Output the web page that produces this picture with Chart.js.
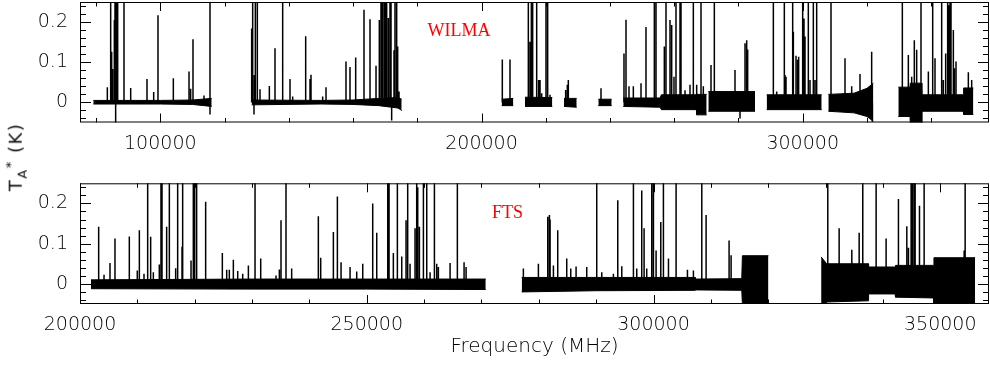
<!DOCTYPE html>
<html lang="en">
<head>
<meta charset="UTF-8">
<title>WILMA / FTS spectra</title>
<script src="https://cdn.jsdelivr.net/npm/chart.js"></script>
<style>
  body { margin: 0; background: #fff; }
  #wrap { position: relative; width: 990px; height: 365px; overflow: hidden; }
  #wrap canvas { position: absolute; left: 0; }
  #top { top: 0; }
  #bottom { top: 160px; }
  #ylabel {
    position: absolute; left: 16px; top: 157px;
    transform: translate(-50%, -50%) rotate(-90deg);
    font: 400 18px "DejaVu Sans", sans-serif; color: #111; white-space: nowrap; letter-spacing: 1.5px;
  }
  #ylabel sub, #ylabel sup { font-size: 13px; }
</style>
</head>
<body>
<div id="wrap">
  <canvas id="top" width="990" height="160"></canvas>
  <canvas id="bottom" width="990" height="205"></canvas>
  <div id="ylabel">T<sub>A</sub><sup>*</sup> (K)</div>
</div>

<script>
// tick labels
const wilmaTicks = [100000, 200000, 300000];
const ftsTicks = [200000, 250000, 300000, 350000];
const yTicks = [0, 0.1, 0.2];

// WILMA baseline noise envelope (MHz, upper K, lower K); null separates backend chunks
const wilmaBandFreq = [79150, 100000, 110000, 116000, null,
  128450, 150000, 160000, 168000, 174000, 175150, null,
  206290, 209900, null,
  213540, 222040, null,
  225680, 229640, null,
  236370, 240530, null,
  244150, 255600, 256000, 266900, 267000, 270100, null,
  270620, 285150, null,
  288780, 305910, null,
  307980, 316000, 320000, 321990, null,
  329770, 333400, 333500, 337000, 337100, 350000, 350100, 353130];
const wilmaBandHi = [0.005, 0.005, 0.006, 0.01, null,
  0.006, 0.005, 0.006, 0.01, 0.012, 0.008, null,
  0.008, 0.01, null,
  0.013, 0.012, null,
  0.01, 0.01, null,
  0.008, 0.008, null,
  0.011, 0.011, 0.019, 0.019, 0.02, 0.02, null,
  0.027, 0.027, null,
  0.019, 0.019, null,
  0.02, 0.023, 0.035, 0.048, null,
  0.038, 0.038, 0.048, 0.048, 0.019, 0.019, 0.036, 0.036];
const wilmaBandLo = [-0.004, -0.004, -0.005, -0.01, null,
  -0.006, -0.004, -0.005, -0.008, -0.014, -0.02, null,
  -0.008, -0.008, null,
  -0.01, -0.01, null,
  -0.01, -0.012, null,
  -0.008, -0.008, null,
  -0.01, -0.012, -0.018, -0.018, -0.031, -0.031, null,
  -0.022, -0.022, null,
  -0.018, -0.018, null,
  -0.022, -0.026, -0.035, -0.047, null,
  -0.035, -0.035, -0.051, -0.051, -0.022, -0.022, -0.03, -0.03];

// WILMA lines: rest frequency (MHz) and peak T_A* (K); 0.3 = off scale
const wilmaLineFreq = [83510, 84550, 84860, 85170, 85690, 85900, 86100, 86100, 86420, 86730,
  88700, 90780, 95860, 97940, 99280, 104060, 108940, 109450, 110180, 113600, 115470, 115470,
  128445, 128760, 129170, 129270, 129590, 130210, 131040, 133950, 135710, 138100, 140380,
  141210, 145260, 146610, 146920, 150550, 151590, 157810, 159060, 160830, 163420, 165290,
  167160, 168190, 168710, 169130, 169650, 170060, 170480, 171000, 171510, 171830, 172030,
  172760, 173070, 173590, 173900, 174320,
  206480, 208870, 214580, 215100, 215520, 215930, 217180, 217800, 218220, 218740, 220080,
  220600, 221330, 226200, 226720, 227030, 237200,
  244360, 244990, 245920, 247270, 249660, 251210, 253810, 254330, 256920, 257440, 258690,
  259210, 259930, 260550, 261800, 262110, 263360, 264910, 265950, 266990, 268340, 269060,
  271450, 272490, 278920, 280480, 282040, 282560, 282870,
  290860, 291900, 294280, 294490, 294800, 296880, 297090, 297920, 298430, 298740, 299990,
  300400, 300720, 301750, 302280, 303310, 303830, 304350,
  308810, 313170, 315250, 317840, 321470, 321680,
  331020, 332890, 333930, 334750, 335480, 336830, 337040, 339120, 340470, 341190, 343270,
  343790, 344510, 345130, 345550, 345860, 346170, 346900, 347210, 347730, 351570, 352610];
const wilmaLinePeak = [0.038, 0.3, 0.126, 0.083, 0.205, 0.3, 0.3, -0.08, 0.3, 0.3,
  0.3, 0.036, 0.058, 0.026, 0.217, 0.06, 0.077, 0.034, 0.157, 0.017, 0.3, -0.03,
  0.184, 0.3, -0.03, 0.068, 0.3, 0.3, 0.033, 0.041, 0.135, 0.3, 0.058,
  0.015, 0.165, 0.058, 0.069, 0.015, 0.038, 0.102, 0.088, 0.112, 0.231, 0.207,
  0.091, 0.205, 0.3, 0.3, 0.3, 0.3, 0.3, 0.21, 0.3, 0.3, -0.045,
  0.13, 0.3, 0.3, 0.139, 0.027,
  0.107, 0.107, 0.3, 0.151, 0.3, 0.3, 0.3, 0.056, 0.056, 0.023, 0.3,
  0.3, 0.019, 0.031, 0.044, 0.056, 0.035,
  0.122, 0.206, 0.04, 0.04, 0.048, 0.188, 0.3, 0.3, 0.139, 0.3, 0.205,
  0.193, 0.064, 0.3, 0.3, 0.3, 0.03, 0.044, 0.3, 0.044, 0.3, 0.04,
  0.093, 0.3, 0.081, -0.04, 0.147, 0.155, 0.132,
  0.3, 0.027, 0.3, 0.068, 0.064, 0.3, 0.176, 0.116, 0.106, 0.114, 0.3,
  0.209, 0.164, 0.3, 0.056, 0.3, 0.056, 0.3,
  0.3, 0.11, 0.04, 0.071, 0.126, -0.048,
  0.3, 0.118, 0.064, 0.155, 0.131, 0.3, -0.052, 0.077, 0.3, 0.11, 0.3,
  0.056, 0.122, 0.3, 0.242, 0.3, 0.3, 0.18, 0.085, 0.102, 0.075, 0.056];

// FTS baseline noise envelope
const ftsBandFreq = [201920, 230000, 250000, 270750, null,
  277020, 290000, 307260, 307300, 315390, 315500, 320040, null,
  329230, 330200, 337480, 337500, 342130, 342200, 348820, 348900, 356080];
const ftsBandHi = [0.01, 0.012, 0.012, 0.012, null,
  0.016, 0.016, 0.016, 0.012, 0.013, 0.07, 0.07, null,
  0.067, 0.05, 0.05, 0.042, 0.042, 0.046, 0.046, 0.065, 0.065];
const ftsBandLo = [-0.012, -0.013, -0.013, -0.014, null,
  -0.02, -0.017, -0.016, -0.015, -0.016, -0.05, -0.05, null,
  -0.05, -0.045, -0.042, -0.025, -0.025, -0.033, -0.035, -0.05, -0.05];

// FTS lines
const ftsLineFreq = [203255, 204190, 205230, 206100, 208600, 209990, 210350, 211160, 211800,
  212320, 212790, 213830, 214120, 214300, 215110, 215580, 216680, 217030, 217790, 217900,
  219360, 219760, 219990, 220340, 221910, 224820, 225580, 226040, 226740, 227500, 228370,
  229360, 230520, 231510, 234180, 234760, 235050, 235920, 236910, 241560, 241970,
  244180, 244880, 245520, 247090, 248250, 249300, 251040, 251740, 253660, 253890, 254640,
  255340, 256100, 256850, 257140, 257550, 258420, 258710, 258890, 259180, 259880, 260460,
  261040, 261800, 262200, 262490, 264530, 265800, 266970, 267320,
  277310, 279930, 281560, 281850, 281970, 282550, 283300, 284870, 285570, 286500, 288360,
  290100, 290980, 293010, 293770, 294470, 296500, 297080, 297950, 298360, 298820,
  299700, 299990, 300450, 301270, 301730, 302610, 303940, 305920, 306960, 308420, 309170,
  313180, 313530,
  330390, 332370, 334580, 335860, 336490, 338820, 340560, 342710, 344170, 344460, 344920,
  345160, 345450, 345620, 346380, 347190, 354170, 354340];
const ftsLinePeak = [0.142, 0.023, 0.052, 0.113, 0.118, 0.033, 0.133, 0.025, 0.3,
  0.117, 0.029, 0.048, 0.3, 0.3, 0.142, 0.3, 0.039, 0.3, 0.092, 0.3,
  0.058, 0.3, 0.3, 0.3, 0.204, 0.077, 0.035, 0.035, 0.06, 0.032, 0.025,
  0.046, 0.3, 0.063, 0.021, 0.036, 0.158, 0.3, 0.038, 0.168, 0.065,
  0.129, 0.217, 0.054, 0.042, 0.031, 0.05, 0.2, 0.127, 0.3, 0.3, 0.077,
  0.3, 0.068, 0.158, 0.3, 0.05, 0.138, 0.3, 0.24, 0.142, 0.3, 0.3,
  0.029, 0.3, 0.05, 0.042, 0.052, 0.3, 0.054, 0.042,
  0.038, 0.05, 0.167, 0.171, 0.16, 0.046, 0.133, 0.063, 0.038, 0.043, 0.042,
  0.3, 0.029, 0.025, 0.208, 0.044, 0.3, 0.038, 0.232, 0.138, 0.038,
  0.3, 0.3, 0.083, 0.154, 0.3, 0.063, 0.3, 0.035, 0.033, 0.3, 0.171,
  0.108, 0.071,
  0.3, 0.138, 0.085, 0.127, 0.3, 0.3, 0.113, 0.211, 0.143, 0.09, 0.3,
  0.3, 0.3, 0.3, 0.194, 0.3, 0.083, 0.3];

const tickFont = { family: 'DejaVu Sans', size: 19, weight: 200 };

// filled envelope: one upper/lower pair per chunk
function bandDatasets(freq, hi, lo) {
  const sets = [];
  let upper = [], lower = [];
  const flush = () => {
    if (!upper.length) return;
    sets.push({ data: upper, fill: '+1', backgroundColor: '#000', borderColor: '#000', borderWidth: 1 });
    sets.push({ data: lower, fill: false, borderColor: '#000', borderWidth: 1 });
    upper = [];
    lower = [];
  };
  freq.forEach((f, i) => {
    if (f === null) { flush(); return; }
    upper.push({ x: f, y: hi[i] });
    lower.push({ x: f, y: lo[i] });
  });
  flush();
  return sets;
}

// each line is a vertical stroke from the baseline, broken by a null point
function lineDataset(freq, peak) {
  const data = [];
  freq.map((f, i) => [f, peak[i]])
    .sort((a, b) => a[0] - b[0])
    .forEach(([f, p]) => data.push({ x: f, y: 0 }, { x: f, y: p }, { x: f, y: null }));
  return { data, fill: false, borderColor: '#000', borderWidth: 1.5, spanGaps: false };
}

// box around the plot with inward ticks on all four sides
const framePlugin = {
  id: 'frame',
  afterDatasetsDraw(chart, args, opts) {
    const { ctx, chartArea: a } = chart;
    const { x, y } = chart.scales;
    ctx.save();
    ctx.strokeStyle = '#000';
    ctx.lineWidth = 1;
    ctx.strokeRect(a.left + 0.5, a.top + 0.5, a.right - a.left - 1, a.bottom - a.top - 1);
    ctx.beginPath();
    const xr = Math.round(opts.xMajor / opts.xMinor);
    for (let n = Math.ceil(x.min / opts.xMinor); n * opts.xMinor <= x.max; n++) {
      const px = Math.round(x.getPixelForValue(n * opts.xMinor)) + 0.5;
      const len = n % xr === 0 ? 9 : 4.5;
      ctx.moveTo(px, a.bottom); ctx.lineTo(px, a.bottom - len);
      ctx.moveTo(px, a.top); ctx.lineTo(px, a.top + len);
    }
    const yr = Math.round(opts.yMajor / opts.yMinor);
    for (let n = Math.ceil(y.min / opts.yMinor - 1e-9); n * opts.yMinor <= y.max + 1e-9; n++) {
      const py = Math.round(y.getPixelForValue(n * opts.yMinor)) + 0.5;
      const len = n % yr === 0 ? 11 : 6;
      ctx.moveTo(a.left, py); ctx.lineTo(a.left + len, py);
      ctx.moveTo(a.right, py); ctx.lineTo(a.right - len, py);
    }
    ctx.stroke();
    ctx.restore();
  }
};

// red backend name inside the panel
const panelLabel = {
  id: 'panelLabel',
  afterDatasetsDraw(chart, args, opts) {
    const { ctx } = chart;
    ctx.save();
    ctx.fillStyle = '#ff0000';
    ctx.font = '18px "Liberation Serif", serif';
    ctx.textAlign = 'center';
    ctx.textBaseline = 'middle';
    ctx.fillText(opts.text, chart.scales.x.getPixelForValue(opts.x), chart.scales.y.getPixelForValue(opts.y));
    ctx.restore();
  }
};

function panel(canvasId, cfg) {
  return new Chart(document.getElementById(canvasId), {
    type: 'line',
    data: {
      datasets: [...bandDatasets(cfg.bandFreq, cfg.bandHi, cfg.bandLo), lineDataset(cfg.lineFreq, cfg.linePeak)]
    },
    options: {
      responsive: false,
      animation: false,
      events: [],
      clip: 0,
      layout: { padding: { top: cfg.padTop, right: 1, left: 0, bottom: 0 } },
      elements: { point: { radius: 0 }, line: { tension: 0 } },
      plugins: {
        legend: { display: false },
        tooltip: { enabled: false },
        frame: { xMinor: cfg.xMinor, xMajor: cfg.xMajor, yMinor: 0.02, yMajor: 0.1 },
        panelLabel: cfg.label
      },
      scales: {
        x: {
          type: 'linear',
          min: cfg.xMin,
          max: cfg.xMax,
          grid: { display: false, drawTicks: false },
          border: { display: false },
          afterBuildTicks: s => { s.ticks = cfg.ticks.map(v => ({ value: v })); },
          afterFit: s => { s.height = cfg.xHeight; s.paddingLeft = 0; s.paddingRight = 0; },
          ticks: { font: tickFont, color: '#000', padding: 10, maxRotation: 0, autoSkip: false, callback: v => String(v) },
          title: cfg.title ? { display: true, text: cfg.title, font: { family: 'DejaVu Sans', size: 20, weight: 200 }, color: '#000', padding: { top: 0, bottom: 6 } } : { display: false }
        },
        y: {
          min: -0.05,
          max: 0.25,
          grid: { display: false, drawTicks: false },
          border: { display: false },
          afterBuildTicks: s => { s.ticks = yTicks.map(v => ({ value: v })); },
          afterFit: s => { s.width = 80; s.paddingTop = 0; s.paddingBottom = 0; },
          ticks: { font: tickFont, color: '#000', padding: 12, callback: v => String(v) }
        }
      }
    },
    plugins: [framePlugin, panelLabel]
  });
}

panel('top', {
  bandFreq: wilmaBandFreq, bandHi: wilmaBandHi, bandLo: wilmaBandLo,
  lineFreq: wilmaLineFreq, linePeak: wilmaLinePeak,
  xMin: 75000, xMax: 358000, xMinor: 20000, xMajor: 100000, ticks: wilmaTicks,
  padTop: 2, xHeight: 37.5,
  label: { text: 'WILMA', x: 193000, y: 0.178 }
});

panel('bottom', {
  bandFreq: ftsBandFreq, bandHi: ftsBandHi, bandLo: ftsBandLo,
  lineFreq: ftsLineFreq, linePeak: ftsLinePeak,
  xMin: 200000, xMax: 358500, xMinor: 10000, xMajor: 50000, ticks: ftsTicks,
  padTop: 23.3, xHeight: 61, title: 'Frequency (MHz)',
  label: { text: 'FTS', x: 274560, y: 0.176 }
});
</script>
</body>
</html>
